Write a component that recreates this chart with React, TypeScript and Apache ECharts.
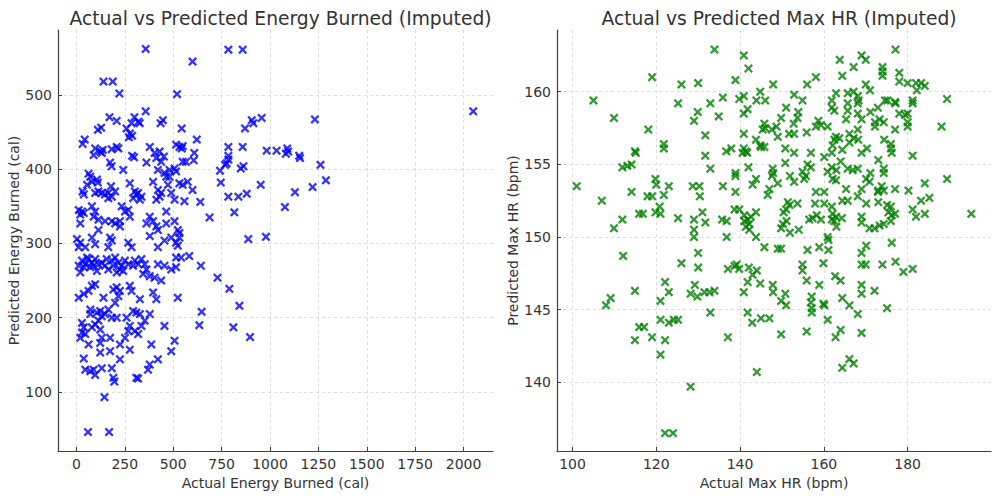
import React, { useEffect, useRef } from "react";
import * as echarts from "echarts";

// ---------- Data ----------
const energyTitle = "Actual vs Predicted Energy Burned (Imputed)";
const hrTitle = "Actual vs Predicted Max HR (Imputed)";

const energyXTicks = [0, 250, 500, 750, 1000, 1250, 1500, 1750, 2000];
const energyYTicks = [100, 200, 300, 400, 500];
const hrXTicks = [100, 120, 140, 160, 180];
const hrYTicks = [140, 145, 150, 155, 160];

const energyActual = [
  358, 600, 140, 188, 222, 520, 358, 171, 208, 128, 111, 285, 300, 320, 327, 259, 277, 288, 271, 435,
  447, 544, 622, 43, 32, 97, 123, 89, 136, 131, 182, 208, 217, 174, 182, 288, 298, 242, 379, 404,
  430, 452, 413, 438, 362, 515, 532, 549, 544, 609, 606, 549, 566, 421, 455, 481, 507, 515, 464,
  63, 72, 80, 55, 106, 111, 32, 38, 97, 114, 131, 148, 165, 179, 200, 183, 165, 276, 302, 319,
  336, 310, 328, 293, 421, 430, 413, 438, 396, 473, 490, 507, 532, 549, 575, 600, 558, 481, 12, 20,
  29, 38, 20, 80, 97, 89, 114, 148, 183, 200, 225, 234, 251, 268, 276, 225, 362, 379, 396, 413,
  421, 464, 464, 507, 524, 532, 640, 688, 114,
  3, 20, 12, 46, 80, 97, 174, 183, 165, 268, 285, 379, 421, 455, 490, 515, 532, 524,
  29, 46, 63, 80, 38, 20, 72, 97, 114, 131, 148, 165, 183, 200, 217, 225, 208, 234, 251, 268,
  293, 319, 336, 353, 362, 345, 379, 404, 438, 421, 455, 490, 515, 515, 541, 583, 643, 12, 55, 89,
  106, 156, 191, 242, 302,
  80, 97, 63, 38, 12, 140, 191, 208, 225, 217, 200, 276, 285, 328, 396, 413, 524,
  72, 72, 106, 123, 131, 148, 165, 183, 208, 114, 97, 80, 29, 38, 29, 20, 46, 63, 123, 131,
  123, 174, 123, 174, 225, 259, 276, 268, 251, 293, 310, 328, 319, 302, 336, 353, 379, 276, 387, 455,
  507, 490, 647, 635,
  38, 46, 72, 89, 97, 131, 183, 225, 191, 196, 310, 319, 370, 379, 421, 145, 60, 169,
  785, 859, 1232, 957, 906, 914, 871, 785, 859, 983, 1034, 1089, 1094, 1082, 1151, 1155, 785, 785, 776, 768,
  742, 863, 849, 1261, 746, 952, 1289, 1220, 1129, 785, 837, 880, 816, 1077, 888, 979, 729, 790, 842, 811,
  897, 2050,
];

const energyPred = [
  562, 545, 518, 518, 502, 501, 478, 470, 465, 456, 453, 462, 470, 464, 462, 455, 448, 445, 443, 462,
  466, 455, 440, 440, 434, 428, 424, 419, 426, 422, 427, 430, 428, 409, 404, 418, 416, 399, 430, 422,
  424, 417, 415, 410, 409, 433, 430, 431, 428, 422, 412, 410, 410, 399, 395, 399, 401, 397, 390,
  394, 390, 383, 379, 386, 382, 370, 366, 368, 370, 368, 366, 368, 377, 370, 363, 361, 381, 370, 368,
  363, 366, 359, 361, 372, 363, 359, 368, 383, 379, 368, 359, 381, 379, 383, 372, 357, 390, 345, 339,
  343, 341, 327, 350, 343, 336, 332, 330, 330, 327, 323, 350, 343, 345, 336, 330, 327, 336, 330, 323,
  318, 327, 343, 330, 318, 314, 356, 335, 318,
  306, 301, 295, 295, 308, 299, 308, 304, 295, 301, 295, 310, 295, 304, 308, 301, 308, 297,
  277, 272, 279, 274, 268, 261, 268, 279, 272, 274, 270, 265, 277, 281, 274, 265, 261, 270, 277, 272,
  270, 272, 279, 272, 265, 259, 256, 254, 250, 272, 270, 265, 268, 281, 281, 283, 270, 270, 281, 270,
  263, 279, 270, 263, 277,
  243, 245, 236, 232, 227, 227, 238, 241, 236, 229, 220, 243, 236, 225, 234, 225, 227,
  211, 205, 207, 209, 202, 205, 211, 200, 200, 196, 191, 187, 193, 187, 180, 173, 178, 164, 184, 173,
  166, 173, 153, 155, 164, 200, 189, 182, 173, 209, 207, 205, 178, 182, 189, 196, 205, 157, 164, 189,
  169, 155, 208, 190,
  145, 130, 128, 130, 123, 132, 132, 144, 119, 114, 119, 118, 130, 137, 144, 93, 46, 46,
  561, 561, 467, 469, 466, 462, 455, 430, 430, 425, 425, 428, 424, 421, 418, 415, 418, 413, 408, 406,
  398, 404, 401, 406, 382, 379, 385, 376, 369, 363, 363, 367, 342, 349, 306, 309, 254, 239, 216, 187,
  174, 478,
];

const hrActual = [
  119.0, 126.0, 130.0, 105.0, 125.2, 129.9, 129.0, 109.9, 118.1, 121.8, 121.8, 114.9, 115.1, 111.9, 113.1, 114.1, 101.0, 119.8, 120.0, 123.0,
  128.7, 130.3, 130.4, 114.1, 107.0, 117.9, 119.0, 121.8, 120.8, 119.8, 121.0, 115.9, 116.8, 111.9, 109.9, 125.2, 129.0, 129.0, 129.0,
  130.0, 112.1, 126.0, 130.0, 122.1, 123.0, 114.9, 109.1, 108.0, 121.0, 129.2, 128.2, 129.8, 121.0, 123.0, 124.2, 125.2, 115.9, 117.1, 114.9,
  119.0, 122.1, 121.0, 128.2, 122.1, 124.0,
  133.9, 140.9, 142.0, 138.9, 147.9, 156.0, 158.1, 163.8, 164.4, 132.9, 135.9, 134.9, 139.8, 140.9, 140.9, 141.8, 144.8, 143.9, 146.0, 152.9,
  154.9, 151.0, 149.8, 153.9, 153.7, 161.9, 161.9, 162.9, 162.5, 131.7, 145.8, 146.0, 145.4, 148.7, 147.6, 149.0, 151.7, 152.9, 152.8, 155.9,
  158.7, 158.1, 159.3, 160.9, 162.9, 162.5, 163.7, 162.1, 164.4, 140.9, 143.8, 145.0, 145.8, 144.8, 140.9, 141.4, 140.6, 141.7, 136.7, 137.9,
  131.7, 150.8, 152.9, 156.9, 160.1, 161.9, 132.9, 142.0, 138.9, 138.9, 147.8, 147.9, 147.6, 150.8, 151.9, 152.9, 154.9, 155.7, 155.3, 156.1,
  156.9, 160.9, 161.9, 163.0, 162.1, 162.9, 164.0, 149.0, 147.0, 146.6, 143.0, 143.8, 135.9, 138.9, 158.1, 160.1, 164.4, 151.4, 151.8, 153.7,
  150.4, 151.0, 157.9, 160.1, 161.9, 138.7, 139.8, 131.0, 131.7, 135.7, 136.8, 141.0, 141.8, 142.6, 142.2, 143.8, 141.0, 141.4, 142.2, 143.8,
  136.8, 150.2, 149.8, 151.1, 151.9, 154.0, 157.3, 158.3, 156.5, 159.3, 162.1, 161.9, 162.5, 162.9, 163.0, 160.9, 161.1, 164.3,
  145.8, 149.0, 149.8, 156.1, 158.9, 161.1, 137.1, 138.7, 139.2, 139.8, 142.1, 144.0, 143.0, 141.8, 144.8, 140.9, 147.8, 147.9, 150.8, 149.8,
  151.0, 154.9, 154.9, 155.9, 158.9, 159.9, 162.7, 164.0, 157.1, 156.9, 157.1, 157.1, 159.9, 160.1, 160.9, 164.0, 162.8, 164.4, 164.4, 131.5,
  132.7, 133.9, 132.9, 137.1, 141.8, 142.9, 145.0, 147.0, 149.8, 155.9, 144.0,
  177.1, 169.0, 170.0, 167.1, 174.0, 174.0, 174.0, 178.0, 178.0, 180.0, 182.0, 183.2, 184.1, 182.2, 170.0, 171.0, 167.1, 168.1, 165.7, 189.4,
  174.6, 175.2, 177.0, 177.1, 181.2, 181.2, 165.7, 168.1, 168.3, 165.7, 171.1, 172.9, 178.0, 179.4, 180.0, 180.0, 180.0, 168.1, 169.0, 172.2,
  173.3, 174.3, 172.2, 188.1, 165.3, 177.0, 168.1, 166.1, 167.1, 168.2, 166.1, 174.4, 176.0, 176.0, 176.2, 169.0, 170.3, 181.2, 173.0, 174.3,
  174.3, 168.1, 166.9, 165.7, 171.1, 170.1, 170.9, 184.1, 189.4, 180.2, 177.0, 173.0, 173.8, 174.3, 172.9, 169.0, 168.1, 165.7, 170.1, 165.3,
  173.0, 175.1, 176.0, 175.4, 183.2, 185.2, 181.2, 182.0, 184.1, 195.2, 177.0, 169.0, 169.0, 170.9, 172.1, 173.3, 174.3, 176.0, 176.2,
  170.1, 169.0, 176.2, 169.0, 170.0, 174.0, 177.1, 179.0, 181.2, 169.0, 169.0, 172.1, 166.1, 168.1, 175.1, 169.0, 166.1, 167.1,
];

const hrPred = [
  161.0, 160.5, 160.6, 159.4, 159.2, 158.6, 158.0, 158.2, 157.4, 156.4, 156.1, 155.9, 155.8, 154.8, 154.9, 155.0, 153.5, 154.0, 153.6, 153.5,
  153.5, 153.5, 152.8, 153.1, 152.5, 152.8, 152.8, 152.9, 152.1, 151.7, 151.6, 151.6, 151.6, 151.2, 150.6, 151.3, 151.2, 150.5, 150.0,
  148.9, 148.7, 148.2, 147.9, 146.9, 146.2, 146.3, 145.8, 145.3, 145.6, 146.7, 146.1, 145.9, 144.3, 144.1, 144.3, 144.3, 143.8, 143.8, 142.9,
  143.1, 142.9, 141.9, 139.7, 136.5, 136.5,
  162.9, 162.5, 161.6, 160.8, 160.5, 160.5, 161.0, 162.2, 161.1, 159.2, 159.6, 158.3, 159.5, 159.7, 158.5, 158.8, 160.0, 159.4, 159.4, 159.8,
  159.4, 158.9, 158.2, 158.6, 158.2, 159.4, 158.9, 159.9, 158.7, 157.0, 157.8, 157.5, 157.4, 157.6, 157.4, 156.9, 157.1, 157.1, 157.8, 157.2,
  158.0, 157.6, 157.7, 157.6, 156.9, 156.7, 156.8, 156.3, 156.0, 157.1, 156.7, 156.2, 156.2, 156.3, 156.1, 155.9, 155.8, 155.8, 155.9, 156.1,
  155.6, 156.1, 155.8, 155.8, 155.5, 155.8, 154.7, 154.8, 154.4, 154.2, 154.7, 154.4, 154.2, 155.1, 154.2, 153.8, 154.5, 154.2, 154.0, 155.0,
  154.8, 154.5, 154.8, 154.6, 154.0, 153.9, 155.2, 153.7, 153.3, 152.9, 153.6, 154.0, 153.5, 153.1, 153.1, 153.1, 152.5, 152.4, 152.2, 152.3,
  151.7, 151.9, 152.3, 152.3, 152.1, 151.9, 151.9, 151.7, 151.0, 151.2, 151.1, 151.5, 151.2, 151.4, 150.9, 151.7, 151.1, 150.7, 150.5, 150.0,
  150.0, 150.9, 150.6, 151.1, 150.3, 150.5, 151.3, 151.5, 151.2, 151.2, 151.6, 151.2, 151.1, 151.4, 150.7, 150.0, 149.8, 151.3,
  149.3, 149.2, 149.2, 149.1, 149.3, 149.1, 147.8, 148.0, 148.1, 147.8, 147.9, 147.7, 147.4, 146.9, 146.8, 146.2, 146.7, 146.2, 146.1, 145.6,
  145.3, 148.1, 147.7, 147.0, 146.7, 148.2, 147.3, 147.0, 145.9, 145.5, 145.1, 144.8, 145.4, 145.3, 144.3, 143.6, 143.1, 145.8, 141.0, 146.2,
  146.2, 146.3, 144.8, 143.1, 144.8, 144.1, 144.4, 144.4, 143.3, 143.5, 140.7,
  162.9, 162.5, 162.2, 161.7, 161.7, 161.4, 161.1, 161.3, 160.7, 160.6, 160.6, 160.6, 160.4, 160.1, 160.5, 160.1, 160.0, 159.7, 159.9, 159.5,
  159.4, 159.4, 159.3, 159.2, 159.4, 159.2, 159.2, 159.2, 159.4, 158.7, 158.6, 158.9, 158.5, 158.4, 158.5, 157.9, 157.6, 158.5, 158.1, 157.9,
  158.1, 157.9, 157.6, 157.6, 158.1, 157.4, 157.4, 157.1, 156.8, 156.7, 156.5, 156.7, 156.4, 156.1, 155.8, 155.8, 156.1, 155.6, 155.3, 154.7,
  154.4, 154.7, 154.6, 154.7, 154.4, 154.0, 153.8, 153.7, 154.0, 153.2, 153.3, 153.2, 153.5, 153.2, 153.1, 153.3, 152.8, 152.5, 152.3, 153.3,
  152.4, 152.2, 152.1, 151.7, 152.5, 152.7, 151.9, 151.4, 151.6, 151.6, 151.6, 151.4, 151.0, 150.6, 150.6, 150.8, 150.9, 151.1, 151.5,
  149.4, 148.9, 149.6, 148.1, 148.1, 148.1, 148.3, 147.6, 147.8, 146.7, 146.1, 146.3, 145.3, 144.7, 145.1, 143.4, 141.6, 141.3,
];

// ---------- Chart ----------
const X_MARK =
  "path://M0,1.8L1.8,0L5,3.2L8.2,0L10,1.8L6.8,5L10,8.2L8.2,10L5,6.8L1.8,10L0,8.2L3.2,5Z";
const FONT = "DejaVu Sans";
const TEXT = "#333333";
const AXIS = "#404040";

function baseAxis(gridIndex: number, min: number, max: number, ticks: number[], name: string, gap: number) {
  return {
    type: "value",
    gridIndex,
    min,
    max,
    name,
    nameLocation: "middle",
    nameGap: gap,
    nameTextStyle: { fontFamily: FONT, fontSize: 14, color: TEXT },
    axisLine: { show: true, onZero: false, lineStyle: { color: AXIS, width: 1.2 } },
    axisTick: { show: true, inside: true, length: 4, customValues: ticks, lineStyle: { color: AXIS } },
    axisLabel: {
      customValues: ticks,
      fontFamily: FONT,
      fontSize: 14,
      color: TEXT,
      margin: 6,
      formatter: (v: number) => String(v),
    },
    splitLine: { show: true, lineStyle: { color: "#d4d4d4", type: [3, 3], width: 0.8 } },
  };
}

export default function App() {
  const ref = useRef<HTMLDivElement>(null);

  useEffect(() => {
    document.body.style.margin = "0";
    if (!ref.current) return;
    const chart = echarts.init(ref.current, null, { renderer: "svg" });
    const energyData = energyActual.map((x, i) => [x, energyPred[i]]);
    const hrData = hrActual.map((x, i) => [x, hrPred[i]]);
    const titleStyle = { fontFamily: FONT, fontSize: 18.7, fontWeight: "normal", color: TEXT };
    chart.setOption({
      animation: false,
      backgroundColor: "#ffffff",
      title: [
        { text: energyTitle, left: 275.5, top: 4, textAlign: "center", textStyle: titleStyle },
        { text: hrTitle, left: 774, top: 4, textAlign: "center", textStyle: titleStyle },
      ],
      grid: [
        { left: 58, top: 30, width: 435, height: 421 },
        { left: 557, top: 30, width: 434, height: 421 },
      ],
      xAxis: [
        baseAxis(0, -95, 2152, energyXTicks, "Actual Energy Burned (cal)", 18),
        baseAxis(1, 96.3, 199.9, hrXTicks, "Actual Max HR (bpm)", 18),
      ],
      yAxis: [
        baseAxis(0, 20.5, 587.5, energyYTicks, "Predicted Energy Burned (cal)", 35),
        baseAxis(1, 135.27, 164.25, hrYTicks, "Predicted Max HR (bpm)", 37),
      ],
      series: [
        {
          type: "scatter",
          xAxisIndex: 0,
          yAxisIndex: 0,
          data: energyData,
          symbol: X_MARK,
          symbolSize: 9,
          itemStyle: { color: "#0000ff" },
        },
        {
          type: "scatter",
          xAxisIndex: 1,
          yAxisIndex: 1,
          data: hrData,
          symbol: X_MARK,
          symbolSize: 9,
          itemStyle: { color: "#008000" },
        },
      ],
    });
    return () => chart.dispose();
  }, []);

  return (
    <div
      ref={ref}
      style={{ position: "absolute", left: 0, top: 0, width: 1000, height: 496 }}
    />
  );
}
